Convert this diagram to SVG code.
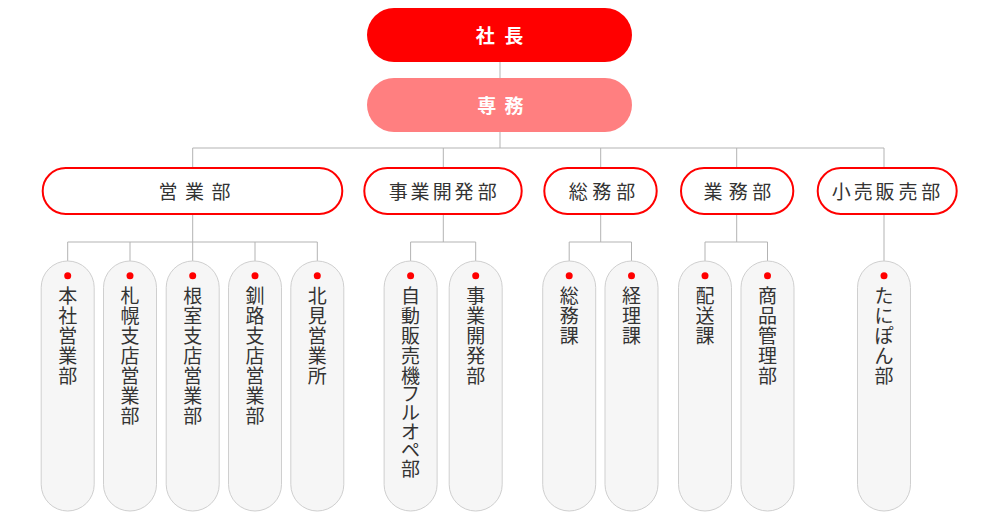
<svg xmlns="http://www.w3.org/2000/svg" width="1000" height="526" viewBox="0 0 1000 526">
<style>
.top{fill:#ff0000}
.sub{fill:#ff7f80}
.toptxt{font-family:"Noto Sans CJK JP","Noto Sans",sans-serif;font-size:19px;font-weight:bold;fill:#ffffff;text-anchor:middle}
.dept{fill:#ffffff;stroke:#ff0000;stroke-width:2}
.depttxt{font-family:"Noto Sans CJK JP","Noto Sans",sans-serif;font-size:19px;fill:#333333;text-anchor:middle}
.box{fill:#f6f6f6;stroke:#cfcfcf;stroke-width:1}
.dot{fill:#ff0000}
.vtxt{font-family:"Noto Sans CJK JP","Noto Sans",sans-serif;font-size:19px;fill:#333333;text-anchor:middle}
.conn{fill:none;stroke:#b3b3b3;stroke-width:1}
</style>
<g id="connectors" class="conn">
<path d="M500 62V78M500 132V148M192.7 148H884M192.7 148V167M443.3 148V167M600.7 148V167M736.7 148V167M884 148V167"/>
<path d="M192.7 215V242M67.7 242H317.3M67.7 242V261M130 242V261M192.7 242V261M255 242V261M317.3 242V261"/>
<path d="M443.3 215V242M410.6 242H475.7M410.6 242V261M475.7 242V261"/>
<path d="M600.7 215V242M569.2 242H631.5M569.2 242V261M631.5 242V261"/>
<path d="M736.7 215V242M705 242H767.5M705 242V261M767.5 242V261"/>
<path d="M884 215V261"/>
</g>
<g id="shacho"><rect class="top" x="367" y="8" width="265" height="54" rx="27"/><text class="toptxt" x="485.3 513.8" y="42.5">社長</text></g>
<g id="senmu"><rect class="sub" x="367" y="78" width="265" height="54" rx="27"/><text class="toptxt" x="486.7 514" y="112.5">専務</text></g>
<g id="eigyobu"><rect class="dept" x="42.7" y="168" width="299.6" height="46" rx="23"/><text class="depttxt" x="168 194.5 221" y="199">営業部</text></g>
<g id="jigyokaihatsubu"><rect class="dept" x="364.3" y="168" width="157.4" height="46" rx="23"/><text class="depttxt" x="398.3 420 442.3 464 487.3" y="199">事業開発部</text></g>
<g id="somubu"><rect class="dept" x="544.3" y="168" width="112.4" height="46" rx="23"/><text class="depttxt" x="578.3 601.7 625.7" y="199">総務部</text></g>
<g id="gyomubu"><rect class="dept" x="681" y="168" width="112.3" height="46" rx="23"/><text class="depttxt" x="713 738.3 761.7" y="199">業務部</text></g>
<g id="kourihanbaibu"><rect class="dept" x="817.7" y="168" width="139" height="46" rx="23"/><text class="depttxt" x="841.3 863.3 885 908 930.7" y="199">小売販売部</text></g>
<g id="honsha"><rect class="box" x="41.2" y="261" width="53" height="250" rx="26.5"/><circle class="dot" cx="67.7" cy="275.7" r="3.5"/><text class="vtxt" x="67.7 67.7 67.7 67.7 67.7" y="302.5 322.5 342.5 362.5 382.5">本社営業部</text></g>
<g id="sapporo"><rect class="box" x="103.5" y="261" width="53" height="250" rx="26.5"/><circle class="dot" cx="130" cy="275.7" r="3.5"/><text class="vtxt" x="130 130 130 130 130 130 130" y="302.5 322.5 342.5 362.5 382.5 402.5 422.5">札幌支店営業部</text></g>
<g id="nemuro"><rect class="box" x="166.2" y="261" width="53" height="250" rx="26.5"/><circle class="dot" cx="192.7" cy="275.7" r="3.5"/><text class="vtxt" x="192.7 192.7 192.7 192.7 192.7 192.7 192.7" y="302.5 322.5 342.5 362.5 382.5 402.5 422.5">根室支店営業部</text></g>
<g id="kushiro"><rect class="box" x="228.5" y="261" width="53" height="250" rx="26.5"/><circle class="dot" cx="255" cy="275.7" r="3.5"/><text class="vtxt" x="255 255 255 255 255 255 255" y="302.5 322.5 342.5 362.5 382.5 402.5 422.5">釧路支店営業部</text></g>
<g id="kitami"><rect class="box" x="290.8" y="261" width="53" height="250" rx="26.5"/><circle class="dot" cx="317.3" cy="275.7" r="3.5"/><text class="vtxt" x="317.3 317.3 317.3 317.3 317.3" y="302.5 322.5 342.5 362.5 382.5">北見営業所</text></g>
<g id="jihanki"><rect class="box" x="384.1" y="261" width="53" height="250" rx="26.5"/><circle class="dot" cx="410.6" cy="275.7" r="3.5"/><text class="vtxt" x="410.6 410.6 410.6 410.6 410.6 410.6 410.6 410.6 410.6 410.6" y="302.5 322.5 342.5 362.5 382.5 401.2 419.9 438.6 457.3 476">自動販売機フルオペ部</text></g>
<g id="jigyokaihatsu2"><rect class="box" x="449.2" y="261" width="53" height="250" rx="26.5"/><circle class="dot" cx="475.7" cy="275.7" r="3.5"/><text class="vtxt" x="475.7 475.7 475.7 475.7 475.7" y="302.5 322.5 342.5 362.5 382.5">事業開発部</text></g>
<g id="somuka"><rect class="box" x="542.7" y="261" width="53" height="250" rx="26.5"/><circle class="dot" cx="569.2" cy="275.7" r="3.5"/><text class="vtxt" x="569.2 569.2 569.2" y="302.5 322.5 342.5">総務課</text></g>
<g id="keirika"><rect class="box" x="605" y="261" width="53" height="250" rx="26.5"/><circle class="dot" cx="631.5" cy="275.7" r="3.5"/><text class="vtxt" x="631.5 631.5 631.5" y="302.5 322.5 342.5">経理課</text></g>
<g id="haisoka"><rect class="box" x="678.5" y="261" width="53" height="250" rx="26.5"/><circle class="dot" cx="705" cy="275.7" r="3.5"/><text class="vtxt" x="705 705 705" y="302.5 322.5 342.5">配送課</text></g>
<g id="shohinkanri"><rect class="box" x="741" y="261" width="53" height="250" rx="26.5"/><circle class="dot" cx="767.5" cy="275.7" r="3.5"/><text class="vtxt" x="767.5 767.5 767.5 767.5 767.5" y="302.5 322.5 342.5 362.5 382.5">商品管理部</text></g>
<g id="taniponbu"><rect class="box" x="857.5" y="261" width="53" height="250" rx="26.5"/><circle class="dot" cx="884" cy="275.7" r="3.5"/><text class="vtxt" x="884 884 884 884 884" y="302.5 322.5 342.5 362.5 382.5">たにぽん部</text></g>
</svg>
